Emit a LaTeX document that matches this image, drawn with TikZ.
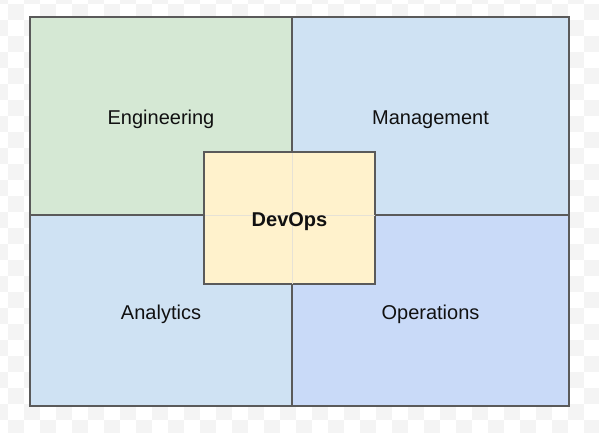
\documentclass[tikz,border=0pt]{standalone}
\usepackage{fontspec}
\setmainfont{Liberation Sans}
\definecolor{chk}{HTML}{F4F4F4}
\definecolor{engc}{HTML}{D5E8D4}
\definecolor{blc}{HTML}{CFE2F3}
\definecolor{opsc}{HTML}{C9DAF8}
\definecolor{devc}{HTML}{FFF2CC}
\definecolor{edge}{HTML}{5A5A5A}
\definecolor{ghost}{HTML}{E6E2D6}
\definecolor{txt}{HTML}{111111}
\begin{document}
\begin{tikzpicture}[x=0.75pt,y=-0.75pt,
  lbl/.style={text=txt,font=\fontsize{15}{18}\selectfont,text height=12.8pt,text depth=0pt},
  quad/.style={lbl,draw=edge,line width=0.85pt,inner sep=0pt},
  centerbox/.style={draw=edge,fill=devc,line width=0.85pt,inner sep=0pt,minimum width=127.5pt,minimum height=98.25pt},
  ghostline/.style={draw=ghost,line width=0.85pt}]
\useasboundingbox (0,0) rectangle (599,432);
\begin{scope}
\clip (0,0) rectangle (599,432);
\foreach \i in {0,...,38}{
  \foreach \j in {0,...,28}{
    \pgfmathtruncatemacro\chkpar{mod(\i+\j,2)}
    \ifnum\chkpar=0
      \fill[chk] ({-8+16*\i},{-12+16*\j}) rectangle ++(16,16);
    \fi
  }
}
\end{scope}
\node[quad,fill=engc,minimum width=196.5pt,minimum height=148.5pt] (eng) at (161,116) {Engineering};
\node[quad,fill=blc,minimum width=207.75pt,minimum height=148.5pt] (mgmt) at (430.5,116) {Management};
\node[quad,fill=blc,minimum width=196.5pt,minimum height=143.25pt] (ana) at (161,310.5) {Analytics};
\node[quad,fill=opsc,minimum width=207.75pt,minimum height=143.25pt] (ops) at (430.5,310.5) {Operations};
\node[centerbox] (dev) at (289.5,218) {};
\draw[ghostline] (dev.west |- eng.south) -- (dev.east |- eng.south);
\draw[ghostline] (eng.east |- dev.north) -- (eng.east |- dev.south);
\draw[edge,line width=0.85pt] (dev.north west) rectangle (dev.south east);
\node[lbl,font=\fontsize{15}{18}\selectfont\bfseries,inner sep=0pt] (devlabel) at (dev.center) {DevOps};
\end{tikzpicture}
\end{document}
